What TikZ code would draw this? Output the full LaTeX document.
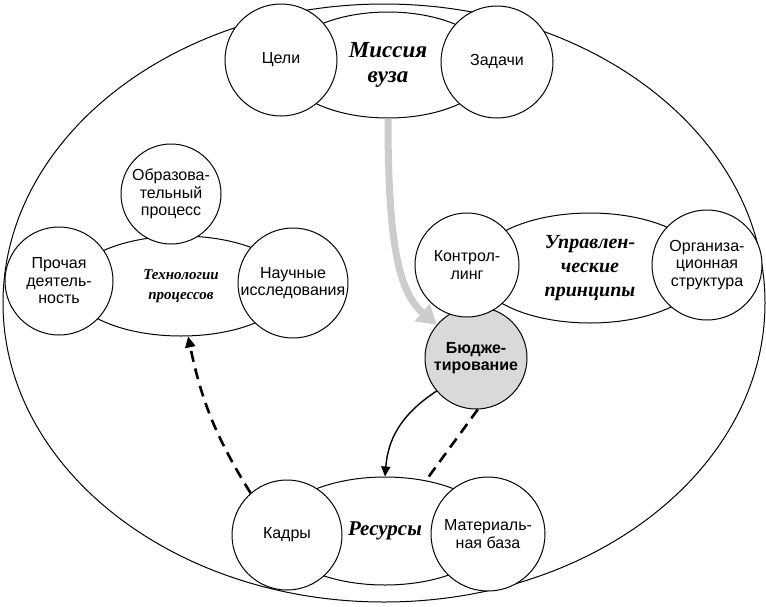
\documentclass[tikz,border=0pt]{standalone}
\usepackage{fontspec}
\setmainfont{Liberation Sans}
\newfontfamily\headfont{Liberation Serif}
\usepackage{tikz}
\usetikzlibrary{shapes.geometric}
\usetikzlibrary{arrows.meta}

\tikzset{
  circ/.style={circle, draw, fill=white, line width=1pt, minimum size=#1, inner sep=0pt, align=center, font=\fontsize{16}{17.5}\selectfont},
  oval/.style={ellipse, draw, fill=white, line width=1pt, inner sep=0pt, align=center},
  headtext/.style 2 args={font=\headfont\bfseries\itshape\fontsize{#1}{#2}\selectfont},
  bigarrow/.style={line width=7pt, color=black!20, -{Triangle[length=19pt,width=22pt]}},
  dasharrow/.style={line width=2.6pt, dash pattern=on 11pt off 7pt}
}

\begin{document}
\begin{tikzpicture}[x=1pt, y=-1pt]
\useasboundingbox (0,0) rectangle (766,606);

% outer oval
\node[oval, minimum width=762pt, minimum height=598pt] (univ) at (384,303) {};

% the four big ovals
\node[oval, minimum width=210pt, minimum height=106pt, headtext={23}{25}] (mission) at (388,65) {Миссия\\вуза};
\node[oval, minimum width=220pt, minimum height=100pt, headtext={15}{20}] (tech) at (181,286) {Технологии\\процессов};
\node[oval, minimum width=230pt, minimum height=110pt, headtext={20}{24}] (mgmt) at (590,268) {Управлен-\\ческие\\принципы};
\node[oval, minimum width=220pt, minimum height=108pt, headtext={21}{24}] (res) at (385,531) {Ресурсы};

% circles round the ovals
\node[circ=112pt] (goals) at (281,60) {Цели};
\node[circ=112pt] (tasks) at (497,62) {Задачи};
\node[circ=100pt] (edu) at (171,194) {Образова-\\тельный\\процесс};
\node[circ=108pt] (other) at (59,281) {Прочая\\деятель-\\ность};
\node[circ=110pt] (science) at (293,283) {Научные\\исследования};
\node[circ=102pt, fill=black!15, font=\bfseries\fontsize{16}{17.5}\selectfont] (budget) at (476,358) {Бюдже-\\тирование};
\node[circ=104pt] (control) at (467,265) {Контрол-\\линг};
\node[circ=110pt] (org) at (707,265) {Организа-\\ционная\\структура};
\node[circ=110pt] (staff) at (287,535) {Кадры};
\node[circ=114pt] (base) at (488,534) {Материаль-\\ная база};

% links
\draw[bigarrow] (mission.south) .. controls (388,240) and (398,292) .. (budget);
\draw[line width=1.4pt, -{Triangle[length=10pt,width=9pt]}] (budget.220) .. controls (400,415) and (388,440) .. (res.north);
\draw[dasharrow] (budget.-88) -- (res.51);
\draw[dasharrow, -{Triangle[length=11pt,width=10pt]}] (staff.131) to[bend left=10] (tech.-82);

\end{tikzpicture}
\end{document}
